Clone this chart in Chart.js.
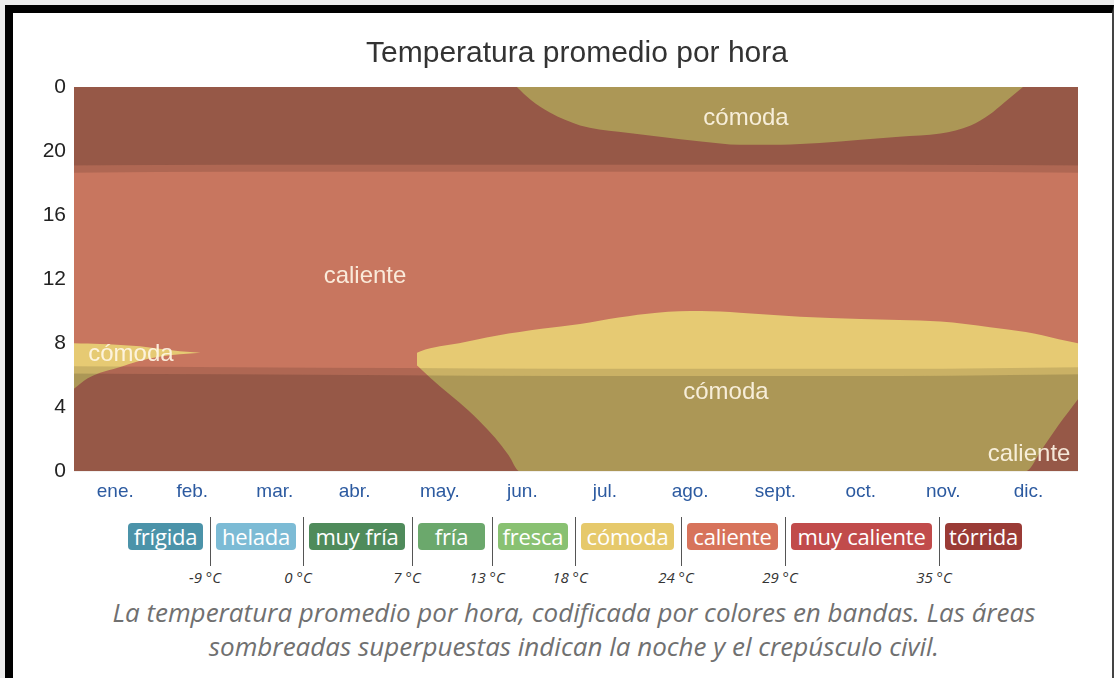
<!DOCTYPE html>
<html lang="es">
<head>
<meta charset="utf-8">
<title>Temperatura promedio por hora</title>
<script src="https://cdn.jsdelivr.net/npm/chart.js@4.4.1/dist/chart.umd.min.js"></script>
<style>
    html, body { margin: 0; padding: 0; }
    body {
        width: 1114px;
        height: 678px;
        background: #ececec;
        position: relative;
        overflow: hidden;
        font-family: "Open Sans", sans-serif;
    }
    .frame {
        position: absolute;
        left: 5px;
        top: 5px;
        width: 1099px;
        height: 700px;
        background: #fff;
        border-left: 8px solid #000;
        border-top: 8px solid #000;
        border-right: 2px solid #444;
    }
    #chartBox { position: absolute; left: 42px; top: 14px; width: 1070px; height: 492px; }
    .legend { position: absolute; left: 0; top: 517px; width: 1114px; height: 72px; }
    .chip {
        position: absolute;
        top: 6px;
        height: 27px;
        line-height: 27px;
        border-radius: 4px;
        color: #fff;
        text-align: center;
        font-size: 22px;
        letter-spacing: -0.2px;
        white-space: nowrap;
    }
    .sep { position: absolute; top: 0; width: 1px; height: 49px; background: #555; }
    .thr {
        position: absolute;
        top: 50px;
        width: 60px;
        margin-left: -30px;
        text-align: center;
        font-style: italic;
        font-size: 15px;
        color: #333;
    }
    .caption {
        position: absolute;
        left: 37px;
        top: 595px;
        width: 1074px;
        text-align: center;
        font-style: italic;
        font-size: 26px;
        line-height: 34px;
        color: #707070;
    }
</style>
</head>
<body>
<div class="frame"></div>
<div id="chartBox"><canvas id="hourChart" width="1070" height="492"></canvas></div>
<div class="legend" id="legend"></div>
<div class="caption">La temperatura promedio por hora, codificada por colores en bandas. Las áreas<br>sombreadas superpuestas indican la noche y el crepúsculo civil.</div>

<script>
// ejes
const dayMax = 365;
const hourMax = 24;
const monthNames = ['ene.', 'feb.', 'mar.', 'abr.', 'may.', 'jun.', 'jul.', 'ago.', 'sept.', 'oct.', 'nov.', 'dic.'];
const monthLabelDays = [15, 43, 73, 102, 133, 163, 193, 224, 255, 286, 316, 347];
const monthStarts = [31, 59, 90, 120, 151, 181, 212, 243, 273, 304, 334];

// banda "cómoda" de la noche (arriba)
const topComodaDays = [161, 166, 173, 184, 198, 213, 228, 242, 257, 271, 286, 300, 315, 326, 333, 338, 345];
const topComodaHours = [24, 23.2, 22.4, 21.6, 21.2, 20.9, 20.6, 20.4, 20.4, 20.5, 20.7, 20.9, 21.1, 21.6, 22.3, 23.0, 24];

// banda "cómoda" de la mañana (mayo - dic.)
const midComodaDays = [124.7, 126, 133, 140, 147, 153, 158, 162, 170, 184, 198, 212, 228, 242, 264, 286, 300, 315, 333, 346, 352, 358, 365];
const midComodaTop = [7.4, 7.5, 7.8, 8.0, 8.25, 8.45, 8.6, 8.7, 8.9, 9.2, 9.6, 9.9, 10.0, 9.9, 9.65, 9.5, 9.45, 9.35, 9.0, 8.7, 8.5, 8.25, 8.0];
const midComodaBottom = [6.6, 6.4, 5.3, 4.3, 3.2, 2.1, 1.0, 0, 0, 0, 0, 0, 0, 0, 0, 0, 0, 0, 0, 0, 1.4, 2.9, 4.5];

// banda "cómoda" de enero
const janComodaDays = [0, 5, 9.5, 15.6, 24, 31, 38.5, 46];
const janComodaTop = [8.0, 7.97, 7.95, 7.9, 7.8, 7.65, 7.5, 7.4];
const janComodaBottom = [5.15, 5.8, 6.15, 6.45, 6.9, 7.15, 7.3, 7.4];

// noche y crepúsculo civil
const sunDays = [0, 60, 120, 180, 240, 300, 365];
const dawnStart = [6.1, 6.05, 6.0, 5.95, 5.95, 5.95, 6.05];
const sunrise = [6.55, 6.5, 6.45, 6.4, 6.4, 6.4, 6.5];
const sunset = [18.65, 18.7, 18.7, 18.7, 18.7, 18.7, 18.65];
const duskEnd = [19.1, 19.15, 19.15, 19.15, 19.15, 19.15, 19.1];

// etiquetas dentro del gráfico
const labelNames = ['caliente', 'cómoda', 'cómoda', 'caliente', 'cómoda'];
const labelDays = [105.8, 244.3, 237, 347.2, 20.7];
const labelHours = [12.2, 22.05, 4.95, 1.07, 7.27];

// leyenda
const legendNames = ['frígida', 'helada', 'muy fría', 'fría', 'fresca', 'cómoda', 'caliente', 'muy caliente', 'tórrida'];
const legendColors = ['#4b93a9', '#7cbbd5', '#4f8b5b', '#6ba86c', '#89c172', '#e6c96b', '#d7735b', '#c14b4b', '#9a3b36'];
const legendLimits = ['-9 °C', '0 °C', '7 °C', '13 °C', '18 °C', '24 °C', '29 °C', '35 °C'];
const chipWidths = [75, 80, 96, 67, 70, 93, 91, 141, 77];

const CALIENTE = '#c8765f';
const COMODA = '#e6ca73';
const NIGHT = 'rgba(0, 0, 0, 0.25)';
const TWILIGHT = 'rgba(0, 0, 0, 0.12)';

function band(days, hours) {
    return days.map((d, i) => ({ x: d, y: hours[i] }));
}

function area(data, fill, color, order) {
    return {
        data: data,
        fill: fill,
        backgroundColor: color,
        borderColor: 'transparent',
        borderWidth: 0,
        pointRadius: 0,
        cubicInterpolationMode: 'monotone',
        order: order
    };
}

const regionLabels = {
    id: 'regionLabels',
    afterDraw(chart) {
        const { ctx, scales } = chart;
        ctx.save();
        ctx.font = '24px "Liberation Sans", Arial, sans-serif';
        ctx.fillStyle = 'rgba(255, 247, 232, 0.9)';
        ctx.textAlign = 'center';
        ctx.textBaseline = 'middle';
        labelNames.forEach((name, i) => {
            ctx.fillText(name, scales.x.getPixelForValue(labelDays[i]), scales.y.getPixelForValue(labelHours[i]));
        });
        ctx.restore();
    }
};

Chart.defaults.font.family = '"Liberation Sans", Arial, sans-serif';

new Chart(document.getElementById('hourChart'), {
    type: 'line',
    data: {
        datasets: [
            area(band([0, dayMax], [hourMax, hourMax]), 'start', CALIENTE, 10),
            area(band(topComodaDays, topComodaHours), 'end', COMODA, 5),
            area(band(midComodaDays, midComodaBottom), false, 'transparent', 5),
            area(band(midComodaDays, midComodaTop), '-1', COMODA, 5),
            area(band(janComodaDays, janComodaBottom), false, 'transparent', 5),
            area(band(janComodaDays, janComodaTop), '-1', COMODA, 5),
            area(band(sunDays, dawnStart), 'start', NIGHT, 1),
            area(band(sunDays, sunrise), '-1', TWILIGHT, 1),
            area(band(sunDays, sunset), false, 'transparent', 1),
            area(band(sunDays, duskEnd), '-1', TWILIGHT, 1),
            area(band(sunDays, duskEnd), 'end', NIGHT, 1)
        ]
    },
    options: {
        responsive: false,
        devicePixelRatio: 1,
        animation: false,
        events: [],
        layout: { padding: { left: 0, right: 0, top: 0, bottom: 2 } },
        plugins: {
            legend: { display: false },
            tooltip: { enabled: false },
            title: {
                display: true,
                text: 'Temperatura promedio por hora',
                color: '#333',
                font: { size: 30, weight: 'normal' },
                padding: { top: 22, bottom: 15 }
            }
        },
        scales: {
            x: {
                type: 'linear',
                min: 0,
                max: dayMax,
                z: 1,
                afterBuildTicks: axis => { axis.ticks = monthStarts.map(v => ({ value: v })); },
                ticks: { display: false },
                grid: { color: 'rgba(0, 0, 0, 0.12)', lineWidth: 1.5, drawTicks: false },
                border: { display: false }
            },
            xm: {
                type: 'linear',
                position: 'bottom',
                min: 0,
                max: dayMax,
                afterBuildTicks: axis => { axis.ticks = monthLabelDays.map(v => ({ value: v })); },
                ticks: {
                    autoSkip: false,
                    maxRotation: 0,
                    padding: 1,
                    color: '#2c5aa0',
                    font: { size: 19 },
                    callback: (v, i) => monthNames[i]
                },
                grid: { display: false },
                border: { display: false }
            },
            y: {
                min: 0,
                max: hourMax,
                z: 1,
                afterFit: scale => { scale.width = 32; },
                ticks: {
                    stepSize: 4,
                    padding: 8,
                    color: '#222',
                    font: { size: 21 },
                    callback: v => v % 24
                },
                grid: { color: 'rgba(0, 0, 0, 0.05)', drawTicks: false },
                border: { display: false }
            },
            // margen derecho vacío, mantiene el título centrado como en el original
            yr: {
                position: 'right',
                min: 0,
                max: hourMax,
                afterFit: scale => { scale.width = 34; },
                ticks: { display: false },
                grid: { display: false },
                border: { display: false }
            }
        }
    },
    plugins: [regionLabels]
});

// leyenda de colores
const legend = document.getElementById('legend');
let left = 128;
legendNames.forEach((name, i) => {
    const chip = document.createElement('div');
    chip.className = 'chip';
    chip.textContent = name;
    chip.style.left = left + 'px';
    chip.style.width = chipWidths[i] + 'px';
    chip.style.background = legendColors[i];
    legend.appendChild(chip);
    left += chipWidths[i];

    if (i < legendLimits.length) {
        const sepX = left + 7;
        const sep = document.createElement('div');
        sep.className = 'sep';
        sep.style.left = sepX + 'px';
        legend.appendChild(sep);

        const thr = document.createElement('div');
        thr.className = 'thr';
        thr.textContent = legendLimits[i];
        thr.style.left = (sepX - 5) + 'px';
        legend.appendChild(thr);

        left = sepX + 6;
    }
});
</script>
</body>
</html>
